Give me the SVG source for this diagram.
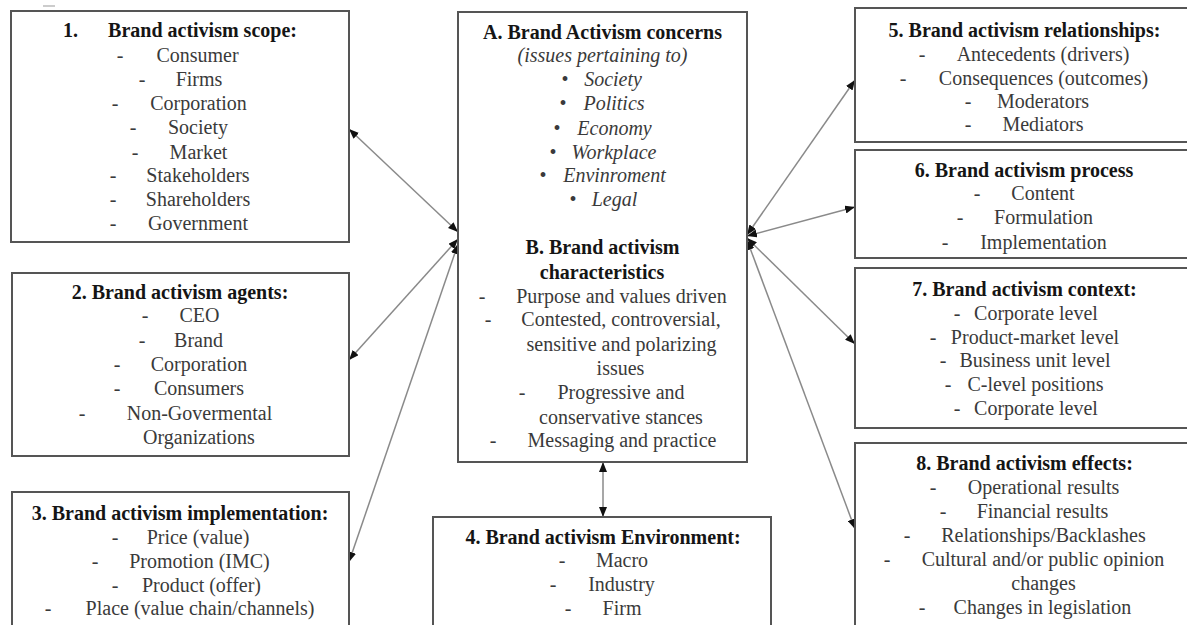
<svg xmlns="http://www.w3.org/2000/svg" width="1187" height="625" viewBox="0 0 1187 625">
<style>
.box{fill:#fff;stroke:#555;stroke-width:2}
text{font-family:"Liberation Serif","Times New Roman",serif;font-size:20px;fill:#3a3a3a;text-anchor:middle}
.h{font-weight:bold;fill:#151515}
.i{font-style:italic}
.l{text-anchor:start}
.c{stroke:#8a8a8a;stroke-width:1.5;fill:none;marker-start:url(#ah);marker-end:url(#ah)}
</style>
<defs>
<marker id="ah" viewBox="0 0 10 8" refX="10" refY="4" markerWidth="10" markerHeight="8" markerUnits="userSpaceOnUse" orient="auto-start-reverse">
<path d="M0,0 L10,4 L0,8 z" fill="#111"/>
</marker>
</defs>
<rect width="1187" height="625" fill="#fff"/>
<line x1="43" y1="6" x2="55" y2="6" stroke="#bbb" stroke-width="1.5"/>

<g id="connectors">
<line class="c" x1="349" y1="129" x2="458" y2="232"/>
<line class="c" x1="349" y1="360" x2="458" y2="239"/>
<line class="c" x1="349" y1="562" x2="458" y2="244"/>
<line class="c" x1="603" y1="462" x2="603" y2="517"/>
<line class="c" x1="747" y1="235" x2="855" y2="80"/>
<line class="c" x1="747" y1="236" x2="855" y2="207"/>
<line class="c" x1="747" y1="238" x2="855" y2="344"/>
<line class="c" x1="747" y1="240" x2="855" y2="529"/>
</g>

<g id="box1">
<rect class="box" x="11" y="11" width="338" height="231"/>
<text class="h l" x="63" y="37">1.</text>
<text class="h" x="202.5" y="37">Brand activism scope:</text>
<text x="120" y="62">-</text><text x="197.5" y="62">Consumer</text>
<text x="142" y="86">-</text><text x="199" y="86">Firms</text>
<text x="115" y="110">-</text><text x="198.5" y="110">Corporation</text>
<text x="133" y="134">-</text><text x="198" y="134">Society</text>
<text x="135" y="159">-</text><text x="198.5" y="159">Market</text>
<text x="113" y="182">-</text><text x="198" y="182">Stakeholders</text>
<text x="113" y="206">-</text><text x="198" y="206">Shareholders</text>
<text x="113" y="230">-</text><text x="198" y="230">Government</text>
</g>

<g id="box2">
<rect class="box" x="12" y="273" width="337" height="183"/>
<text class="h" x="180" y="299">2. Brand activism agents:</text>
<text x="145" y="322">-</text><text x="199.5" y="322">CEO</text>
<text x="142" y="347">-</text><text x="198.5" y="347">Brand</text>
<text x="117" y="371">-</text><text x="199" y="371">Corporation</text>
<text x="117" y="395">-</text><text x="199" y="395">Consumers</text>
<text x="82" y="420">-</text><text x="199.5" y="420">Non-Govermental</text>
<text x="199" y="444">Organizations</text>
</g>

<g id="box3">
<rect class="box" x="12" y="492" width="337" height="150"/>
<text class="h" x="180" y="520">3. Brand activism implementation:</text>
<text x="115" y="544">-</text><text x="198" y="544">Price (value)</text>
<text x="95" y="568">-</text><text x="199.5" y="568">Promotion (IMC)</text>
<text x="115" y="592">-</text><text x="201.5" y="592">Product (offer)</text>
<text x="48" y="615">-</text><text x="200" y="615">Place (value chain/channels)</text>
</g>

<g id="center">
<rect class="box" x="458" y="12" width="289" height="450"/>
<text class="h" x="602.5" y="39">A. Brand Activism concerns</text>
<text class="i" x="602.5" y="62">(issues pertaining to)</text>
<text x="565" y="86">•</text><text class="i" x="613" y="86">Society</text>
<text x="563" y="110">•</text><text class="i" x="614" y="110">Politics</text>
<text x="557" y="135">•</text><text class="i" x="614.5" y="135">Economy</text>
<text x="553" y="159">•</text><text class="i" x="614" y="159">Workplace</text>
<text x="543" y="182">•</text><text class="i" x="614.5" y="182">Envinroment</text>
<text x="573" y="206">•</text><text class="i" x="614.5" y="206">Legal</text>
<text class="h" x="602.5" y="254">B. Brand activism</text>
<text class="h" x="602" y="279">characteristics</text>
<text x="482" y="303">-</text><text x="621.5" y="303">Purpose and values driven</text>
<text x="488" y="326">-</text><text x="621" y="326">Contested, controversial,</text>
<text x="621.5" y="351">sensitive and polarizing</text>
<text x="620.5" y="375">issues</text>
<text x="522" y="399">-</text><text x="621" y="399">Progressive and</text>
<text x="621" y="424">conservative stances</text>
<text x="493" y="447">-</text><text x="622" y="447">Messaging and practice</text>
</g>

<g id="box4">
<rect class="box" x="433" y="517" width="338" height="130"/>
<text class="h" x="603" y="544">4. Brand activism Environment:</text>
<text x="562" y="567">-</text><text x="622" y="567">Macro</text>
<text x="553" y="591">-</text><text x="621.5" y="591">Industry</text>
<text x="568" y="615">-</text><text x="622" y="615">Firm</text>
</g>

<g id="box5">
<rect class="box" x="855" y="8" width="339" height="134"/>
<text class="h" x="1024.5" y="37">5. Brand activism relationships:</text>
<text x="922" y="61">-</text><text x="1043" y="61">Antecedents (drivers)</text>
<text x="903" y="85">-</text><text x="1043.5" y="85">Consequences (outcomes)</text>
<text x="968" y="108">-</text><text x="1043" y="108">Moderators</text>
<text x="968" y="131">-</text><text x="1043" y="131">Mediators</text>
</g>

<g id="box6">
<rect class="box" x="855" y="150" width="339" height="108"/>
<text class="h" x="1024" y="177">6. Brand activism process</text>
<text x="977" y="200">-</text><text x="1043" y="200">Content</text>
<text x="960" y="224">-</text><text x="1043.5" y="224">Formulation</text>
<text x="945" y="249">-</text><text x="1043.5" y="249">Implementation</text>
</g>

<g id="box7">
<rect class="box" x="855" y="268" width="339" height="160"/>
<text class="h" x="1024.5" y="296">7. Brand activism context:</text>
<text x="957" y="320">-</text><text x="1036" y="320">Corporate level</text>
<text x="933" y="344">-</text><text x="1035" y="344">Product-market level</text>
<text x="943" y="367">-</text><text x="1035" y="367">Business unit level</text>
<text x="948" y="391">-</text><text x="1035.5" y="391">C-level positions</text>
<text x="957" y="415">-</text><text x="1036" y="415">Corporate level</text>
</g>

<g id="box8">
<rect class="box" x="855" y="443" width="339" height="200"/>
<text class="h" x="1024.5" y="470">8. Brand activism effects:</text>
<text x="933" y="494">-</text><text x="1043.5" y="494">Operational results</text>
<text x="943" y="518">-</text><text x="1042.5" y="518">Financial results</text>
<text x="907" y="542">-</text><text x="1043.5" y="542">Relationships/Backlashes</text>
<text x="887" y="566">-</text><text x="1043" y="566">Cultural and/or public opinion</text>
<text x="1043.5" y="590">changes</text>
<text x="922" y="614">-</text><text x="1042.5" y="614">Changes in legislation</text>
</g>
</svg>
